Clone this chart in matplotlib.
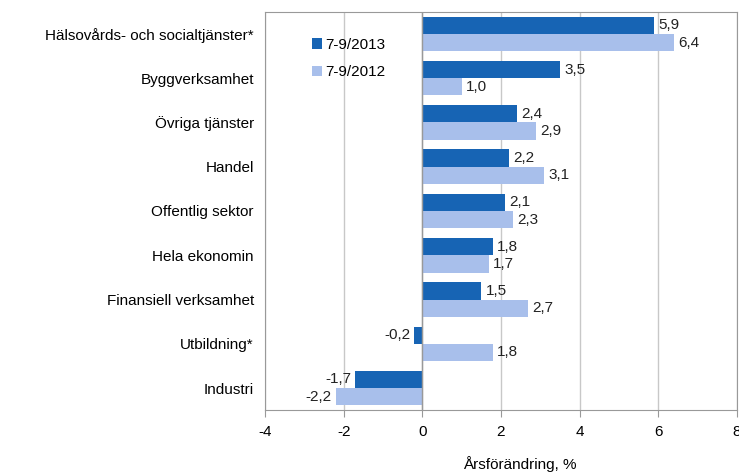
import matplotlib.pyplot as plt
import numpy as np

# --- Data ---
categories = [
    "Hälsovårds- och socialtjänster*",
    "Byggverksamhet",
    "Övriga tjänster",
    "Handel",
    "Offentlig sektor",
    "Hela ekonomin",
    "Finansiell verksamhet",
    "Utbildning*",
    "Industri",
]
values_2013 = [5.9, 3.5, 2.4, 2.2, 2.1, 1.8, 1.5, -0.2, -1.7]
values_2012 = [6.4, 1.0, 2.9, 3.1, 2.3, 1.7, 2.7, 1.8, -2.2]
series_labels = ["7-9/2013", "7-9/2012"]
x_ticks = [-4, -2, 0, 2, 4, 6, 8]

plt.rcParams['font.family'] = ['Liberation Sans', 'DejaVu Sans']

dark = '#1764b4'
light = '#a8bfeb'

fig = plt.figure(figsize=(7.39, 4.72), dpi=100)
ax = fig.add_axes([0.3586, 0.131, 0.6385, 0.844])

y = np.arange(len(categories))
h = 0.39
b1 = ax.barh(y - h / 2, values_2013, height=h, color=dark, label=series_labels[0], zorder=3)
b2 = ax.barh(y + h / 2, values_2012, height=h, color=light, label=series_labels[1], zorder=3)

def fmt(v):
    return f"{v:.1f}".replace('.', ',')

for bars, vals in ((b1, values_2013), (b2, values_2012)):
    for bar, v in zip(bars, vals):
        yc = bar.get_y() + bar.get_height() / 2
        if v >= 0:
            ax.annotate(fmt(v), (v, yc), xytext=(3, 0), textcoords='offset points',
                        ha='left', va='center', fontsize=11, color='#222222')
        else:
            ax.annotate(fmt(v), (v, yc), xytext=(-3, 0), textcoords='offset points',
                        ha='right', va='center', fontsize=11, color='#222222')

ax.set_xlim(-4, 8)
ax.set_ylim(len(categories) - 0.5, -0.5)
ax.set_xticks(x_ticks)
ax.set_xticklabels([str(t) for t in x_ticks], fontsize=11)
ax.set_yticks(y)
ax.set_yticklabels(categories, fontsize=11)
ax.tick_params(axis='y', length=0, pad=8)
ax.tick_params(axis='x', length=5, color='#999999', pad=6, direction='out')

ax.grid(axis='x', color='#c8c8c8', linewidth=1, zorder=0)
ax.axvline(0, color='#999999', linewidth=1, zorder=4)
for s in ax.spines.values():
    s.set_color('#999999')

ax.set_xlabel("Årsförändring, %", fontsize=11)
ax.xaxis.set_label_coords(0.54, -0.115)

leg = ax.legend(loc='upper left', bbox_to_anchor=(0.07, 0.97), frameon=False,
                fontsize=11, handlelength=0.7, handleheight=0.7, handletextpad=0.2,
                labelspacing=0.9)

fig.savefig('out.png', dpi=100)
